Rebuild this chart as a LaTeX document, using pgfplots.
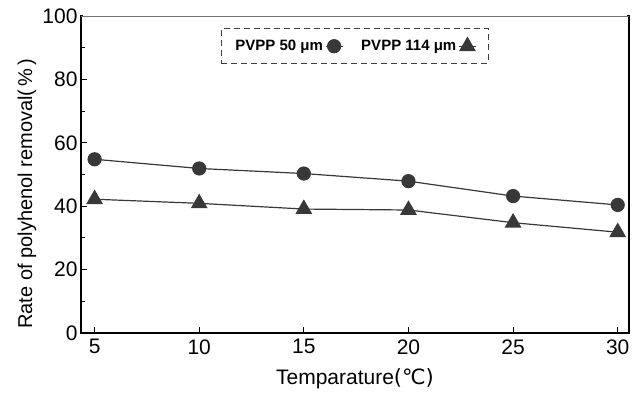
\documentclass[border=0pt]{standalone}
\usepackage{pgfplots}
\pgfplotsset{compat=1.18}
\usepackage{fontspec}
\setmainfont{Liberation Sans}
\newfontfamily\dejavu{DejaVu Sans}
\definecolor{ink}{HTML}{383838}
\begin{document}
\begin{tikzpicture}
\path (0pt,0pt) rectangle (637pt,394pt);
\begin{axis}[
 at={(81pt,61pt)}, anchor=south west,
 scale only axis, width=548pt, height=317pt,
 xmin=4.35, xmax=30.54, ymin=0, ymax=100,
 xtick={5,10,15,20,25,30}, ytick={0,20,40,60,80,100},
 minor ytick={10,30,50,70,90},
 tick pos=left, tick align=inside,
 major tick length=6pt, minor tick length=4pt,
 axis line style={line width=1.4pt, black},
 every tick/.style={line width=1pt, black},
 ticklabel style={font=\fontsize{21}{24}\selectfont},
 xticklabel style={yshift=-3pt},
 /pgf/number format/assume math mode=true,
 xlabel={Temparature{\dejavu (℃)}},
 ylabel={Rate of polyhenol removal(\,\%\,)},
 xlabel style={font=\fontsize{21}{24}\selectfont, at={(axis description cs:0.5,0)}, anchor=center, yshift=-46pt},
 ylabel style={font=\fontsize{20}{23}\selectfont, at={(axis description cs:0,0.44)}, anchor=center, yshift=54pt},
 legend plot pos=right,
 legend columns=2,
 legend style={at={(0.5,0.962)}, anchor=north, draw=black!75, dash pattern=on 6pt off 4pt, line width=1.3pt,
   font=\fontsize{15}{18}\selectfont\bfseries, inner xsep=12pt, inner ysep=9pt,
   /tikz/every even column/.append style={column sep=16pt}},
]
\addplot[solid, ink, line width=1.2pt, mark=*, mark size=6.5pt, mark options={fill=ink, draw=ink}]
 coordinates {(5,54.8) (10,51.9) (15,50.3) (20,47.9) (25,43.2) (30,40.4)};
\addlegendentry{PVPP 50 μm}
\addplot[solid, ink, line width=1.2pt, mark=triangle*, mark size=8.5pt, mark options={fill=ink, draw=ink}]
 coordinates {(5,42.2) (10,40.9) (15,39.1) (20,38.8) (25,34.8) (30,31.8)};
\addlegendentry{PVPP 114 μm}
\draw[white, line width=1.6pt] (rel axis cs:0.003,1) -- (rel axis cs:0.997,1);
\draw[black!55, line width=0.8pt] (rel axis cs:0,1) -- (rel axis cs:1,1);
\end{axis}
\end{tikzpicture}
\end{document}
